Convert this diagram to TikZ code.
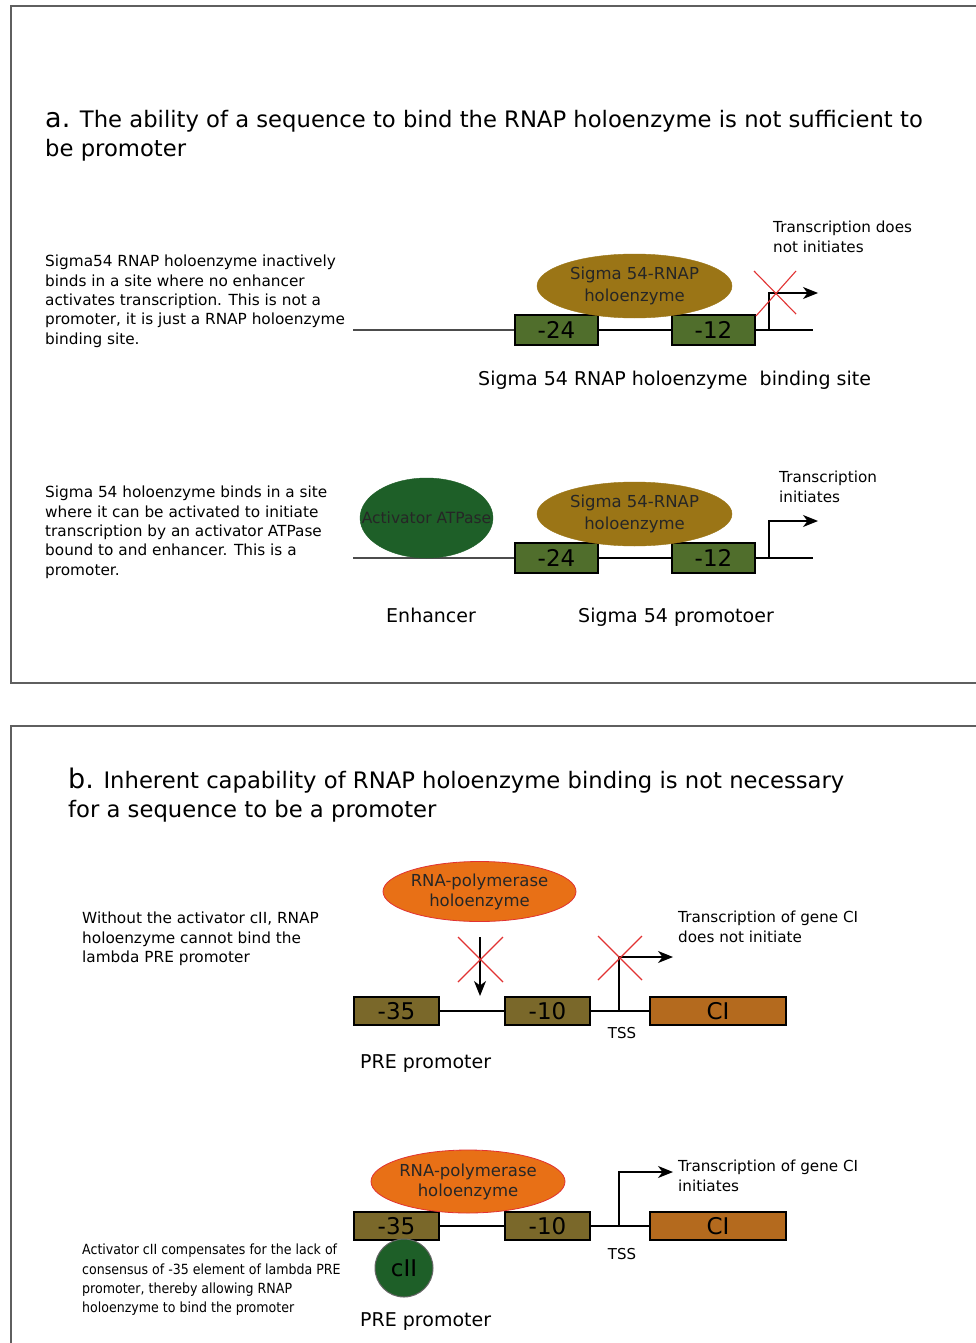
\documentclass[tikz,border=0pt]{standalone}
\usepackage{fontspec}
\setmainfont{DejaVu Sans}
\newfontfamily\condfont[FakeStretch=0.9]{DejaVu Sans}
\usetikzlibrary{shapes.geometric,arrows.meta}
\definecolor{gboxc}{RGB}{80,110,44}
\definecolor{sigc}{RGB}{155,117,22}
\definecolor{actc}{RGB}{30,95,40}
\definecolor{orc}{RGB}{232,112,22}
\definecolor{olc}{RGB}{122,104,42}
\definecolor{cic}{RGB}{180,106,30}
\definecolor{xred}{RGB}{225,50,50}
\definecolor{framec}{RGB}{95,95,95}
\tikzset{
  frame/.style={draw=framec,line width=2pt},
  dna/.style={draw=black,line width=1.6pt},
  thindna/.style={draw=black!70,line width=1.2pt},
  gbox/.style={draw=black,line width=1.3pt,fill=gboxc,minimum width=83pt,minimum height=30pt,inner sep=0pt,font=\fontsize{23}{23}\selectfont},
  obox/.style={draw=black,line width=1.3pt,fill=olc,minimum width=85pt,minimum height=28pt,inner sep=0pt,font=\fontsize{23}{23}\selectfont},
  cibox/.style={draw=black,line width=1.3pt,fill=cic,minimum width=136pt,minimum height=28pt,inner sep=0pt,font=\fontsize{23}{23}\selectfont},
  blobtext/.style={inner sep=0pt,align=center,text=black!85},
  sigblob/.style={ellipse,fill=sigc,draw=sigc,minimum width=195pt,minimum height=64pt,inner sep=0pt},
  actblob/.style={ellipse,fill=actc,draw=actc,minimum width=133pt,minimum height=80pt,inner sep=0pt},
  orblob/.style={ellipse,fill=orc,draw=xred,line width=0.8pt,minimum width=193pt,minimum height=60pt,inner sep=0pt},
  ciicirc/.style={circle,fill=actc,draw=black!60,line width=1pt,minimum size=58pt,inner sep=0pt,font=\fontsize{23}{23}\selectfont},
  tssarrow/.style={draw=black,line width=1.2pt,-{Stealth[length=15pt,width=12pt,inset=4.5pt]}},
  redx/.style={draw=xred,line width=1.1pt},
  desc/.style={anchor=north west,inner sep=0pt,align=left,font=\fontsize{15.3}{19.3}\selectfont},
  smalldesc/.style={anchor=north west,inner sep=0pt,align=left,font=\condfont\fontsize{14}{19.3}\selectfont},
  tlabel/.style={anchor=north west,inner sep=0pt,align=left,font=\fontsize{15.2}{19.5}\selectfont},
  biglabel/.style={anchor=base west,inner sep=0pt,font=\fontsize{19}{22}\selectfont},
  title/.style={anchor=base west,inner sep=0pt,font=\fontsize{22.7}{26}\selectfont},
  tsslabel/.style={anchor=base,inner sep=0pt,font=\fontsize{15}{16}\selectfont}
}
\begin{document}
\begin{tikzpicture}[x=1pt,y=-1pt]
\useasboundingbox[fill=white] (0,0) rectangle (976,1343);
% frames
\coordinate (fa1) at (980,6); \coordinate (fa2) at (11,6);
\coordinate (fa3) at (11,683); \coordinate (fa4) at (980,683);
\draw[frame] (fa1) -- (fa2) -- (fa3) -- (fa4);
\coordinate (fb1) at (980,726); \coordinate (fb2) at (11,726); \coordinate (fb3) at (11,1350);
\draw[frame] (fb1) -- (fb2) -- (fb3);

% ---------- panel a ----------
\node[title] (ta1) at (45,128) {{\fontsize{27}{27}\selectfont a.} The ability of a sequence to bind the RNAP holoenzyme is not sufficient to};
\node[title] (ta2) at (45,157) {be promoter};

\node[desc] (da1) at (45,255) {Sigma54 RNAP holoenzyme inactively\\binds in a site where no enhancer\\activates transcription. This is not a\\promoter, it is just a RNAP holoenzyme\\binding site.};

\coordinate (a1s) at (353,330); \coordinate (a1e) at (813,330);
\node[gbox] (a24) at (556.5,330) {-24};
\node[gbox] (a12) at (713.5,330) {-12};
\draw[thindna] (a1s) -- (a24.west);
\draw[dna] (a24.east) -- (a12.west);
\draw[dna] (a12.east) -- (a1e);
\node[sigblob] (asig) at (634.5,286) {};
\node[blobtext,font=\fontsize{16.5}{22}\selectfont] (asigt) at (asig.center) {Sigma 54-RNAP\\holoenzyme};
\coordinate (a1t) at (769,330); \coordinate (a1h) at (818,293);
\draw[tssarrow] (a1t) |- (a1h);
\coordinate (ax1) at (754,271); \coordinate (ax2) at (796,314);
\coordinate (ax3) at (796,271); \coordinate (ax4) at (756,316);
\draw[redx] (ax1) -- (ax2);
\draw[redx] (ax3) -- (ax4);
\node[tlabel] (tra1) at (773,221) {Transcription does\\not initiates};
\node[biglabel] (la1) at (478,385) {Sigma 54 RNAP holoenzyme\ \ binding site};

\node[desc] (da2) at (45,486) {Sigma 54 holoenzyme binds in a site\\where it can be activated to initiate\\transcription by an activator ATPase\\bound to and enhancer. This is a\\promoter.};

\coordinate (a2s) at (353,558); \coordinate (a2e) at (813,558);
\node[gbox] (b24) at (556.5,558) {-24};
\node[gbox] (b12) at (713.5,558) {-12};
\draw[thindna] (a2s) -- (b24.west);
\draw[dna] (b24.east) -- (b12.west);
\draw[dna] (b12.east) -- (a2e);
\node[actblob] (act) at (426.5,518) {};
\node[blobtext,font=\fontsize{15.5}{18}\selectfont] (actt) at (act.center) {Activator ATPase};
\node[sigblob] (bsig) at (634.5,514) {};
\node[blobtext,font=\fontsize{16.5}{22}\selectfont] (bsigt) at (bsig.center) {Sigma 54-RNAP\\holoenzyme};
\coordinate (a2t) at (769,558); \coordinate (a2h) at (818,521);
\draw[tssarrow] (a2t) |- (a2h);
\node[tlabel] (tra2) at (779,471) {Transcription\\initiates};
\node[biglabel] (la2) at (386,622) {Enhancer};
\node[biglabel] (la3) at (578,622) {Sigma 54 promotoer};

% ---------- panel b ----------
\node[title] (tb1) at (68,788) {{\fontsize{27}{27}\selectfont b.} Inherent capability of RNAP holoenzyme binding is not necessary};
\node[title] (tb2) at (68,817) {for a sequence to be a promoter};

\node[desc] (db1) at (82,912) {Without the activator cII, RNAP\\holoenzyme cannot bind the\\lambda PRE promoter};

\node[obox] (c35) at (396.5,1011) {-35};
\node[obox] (c10) at (547.5,1011) {-10};
\node[cibox] (cci) at (718,1011) {CI};
\draw[dna] (c35.east) -- (c10.west);
\draw[dna] (c10.east) -- (cci.west);
\node[orblob] (cor) at (479.5,891.5) {};
\node[blobtext,font=\fontsize{16.5}{20}\selectfont] (cort) at (cor.center) {RNA-polymerase\\holoenzyme};
\coordinate (cd1) at (480,937); \coordinate (cd2) at (480,996);
\draw[tssarrow] (cd1) -- (cd2);
\coordinate (cx1) at (458,937); \coordinate (cx2) at (503,982);
\coordinate (cx3) at (503,937); \coordinate (cx4) at (458,982);
\draw[redx] (cx1) -- (cx2);
\draw[redx] (cx3) -- (cx4);
\coordinate (c1t) at (619,1011); \coordinate (c1h) at (673,957);
\draw[tssarrow] (c1t) |- (c1h);
\coordinate (cy1) at (598,936); \coordinate (cy2) at (642,980);
\coordinate (cy3) at (642,936); \coordinate (cy4) at (598,980);
\draw[redx] (cy1) -- (cy2);
\draw[redx] (cy3) -- (cy4);
\node[tsslabel] (tss1) at (622,1038) {TSS};
\node[tlabel] (trb1) at (678,911) {Transcription of gene CI\\does not initiate};
\node[biglabel] (lb1) at (360,1068) {PRE promoter};

\node[smalldesc] (db2) at (82,1244) {Activator cII compensates for the lack of\\consensus of -35 element of lambda PRE\\promoter, thereby allowing RNAP\\holoenzyme to bind the promoter};

\node[obox] (d35) at (396.5,1226) {-35};
\node[obox] (d10) at (547.5,1226) {-10};
\node[cibox] (dci) at (718,1226) {CI};
\draw[dna] (d35.east) -- (d10.west);
\draw[dna] (d10.east) -- (dci.west);
\node[orblob,minimum width=194pt,minimum height=63pt] (dor) at (468,1181.5) {};
\node[blobtext,font=\fontsize{16.5}{20}\selectfont] (dort) at (dor.center) {RNA-polymerase\\holoenzyme};
\node[ciicirc] (cii) at (404,1268) {cII};
\coordinate (d1t) at (619,1226); \coordinate (d1h) at (673,1172);
\draw[tssarrow] (d1t) |- (d1h);
\node[tsslabel] (tss2) at (622,1259) {TSS};
\node[tlabel] (trb2) at (678,1160) {Transcription of gene CI\\initiates};
\node[biglabel] (lb2) at (360,1326) {PRE promoter};
\end{tikzpicture}
\end{document}
